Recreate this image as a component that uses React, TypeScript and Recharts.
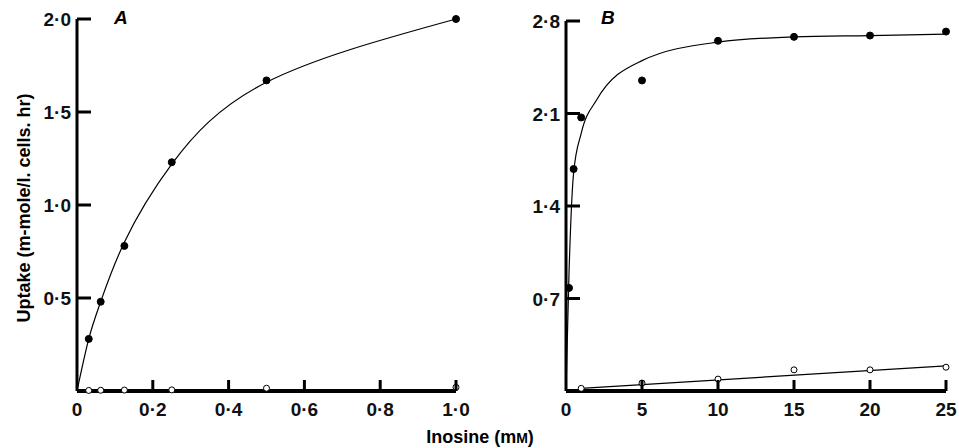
import { LineChart, Line, XAxis, YAxis } from "recharts";

// Panel A (0-1 mM)
const aFilled = [
  { x: 0.031, y: 0.28 },
  { x: 0.0625, y: 0.48 },
  { x: 0.125, y: 0.78 },
  { x: 0.25, y: 1.23 },
  { x: 0.5, y: 1.67 },
  { x: 1.0, y: 2.0 },
];
const aCurve = [
  { x: 0, y: 0 },
  { x: 0.031, y: 0.28 },
  { x: 0.0625, y: 0.48 },
  { x: 0.125, y: 0.8 },
  { x: 0.25, y: 1.22 },
  { x: 0.5, y: 1.66 },
  { x: 1.0, y: 2.0 },
];
const aOpen = [
  { x: 0.031, y: 0.003 },
  { x: 0.0625, y: 0.004 },
  { x: 0.125, y: 0.005 },
  { x: 0.25, y: 0.006 },
  { x: 0.5, y: 0.015 },
  { x: 1.0, y: 0.02 },
];
const aXTicks = [0, 0.2, 0.4, 0.6, 0.8, 1.0];
const aYTicks = [0.5, 1.0, 1.5, 2.0];

// Panel B (0-25 mM)
const bFilled = [
  { x: 0.2, y: 0.78 },
  { x: 0.5, y: 1.68 },
  { x: 1, y: 2.07 },
  { x: 5, y: 2.35 },
  { x: 10, y: 2.65 },
  { x: 15, y: 2.68 },
  { x: 20, y: 2.69 },
  { x: 25, y: 2.72 },
];
const bCurve = [
  { x: 0, y: 0 },
  { x: 0.2, y: 0.9 },
  { x: 0.5, y: 1.65 },
  { x: 1, y: 1.95 },
  { x: 2, y: 2.2 },
  { x: 5, y: 2.5 },
  { x: 10, y: 2.64 },
  { x: 15, y: 2.68 },
  { x: 20, y: 2.69 },
  { x: 25, y: 2.7 },
];
const bOpenFit = [
  { x: 1, y: 0.02 },
  { x: 25, y: 0.19 },
];
const bOpen = [
  { x: 1, y: 0.02 },
  { x: 5, y: 0.06 },
  { x: 10, y: 0.09 },
  { x: 15, y: 0.16 },
  { x: 20, y: 0.16 },
  { x: 25, y: 0.18 },
];
const bXTicks = [0, 5, 10, 15, 20, 25];
const bYTicks = [0.7, 1.4, 2.1, 2.8];

const FONT = "'Liberation Sans', Arial, sans-serif";
const fmt = (v: number, d: number) => (v === 0 ? "0" : v.toFixed(d).replace(".", "·"));

const XTick = ({ x, y, payload, d }: any) => (
  <g>
    {payload.value !== 0 && <line x1={x} x2={x} y1={y} y2={y - 11} stroke="#000" strokeWidth={3} />}
    <text x={x} y={y + 25} textAnchor="middle" fontSize={19} fontWeight="bold" fontFamily={FONT} fill="#111">
      {fmt(payload.value, d)}
    </text>
  </g>
);

const YTick = ({ x, y, payload }: any) => (
  <g>
    <line x1={x} x2={x + 14} y1={y} y2={y} stroke="#000" strokeWidth={3} />
    <text x={x - 6} y={y + 7} textAnchor="end" fontSize={19} fontWeight="bold" fontFamily={FONT} fill="#111">
      {fmt(payload.value, 1)}
    </text>
  </g>
);

const openDot = { r: 3, fill: "#fff", stroke: "#000", strokeWidth: 1 };
const fullDot = { r: 3.5, fill: "#000", stroke: "#000" };

function Panel({ left, top, width, height, margin, xMax, yMax, xTicks, yTicks, d, curve, curveType, filled, open, openFit, label }: any) {
  return (
    <div style={{ position: "absolute", left, top }}>
      <LineChart width={width} height={height} margin={margin}>
        <XAxis type="number" dataKey="x" domain={[0, xMax]} ticks={xTicks} tickSize={0} tickMargin={0}
          axisLine={{ stroke: "#000", strokeWidth: 4 }} tickLine={false} tick={<XTick d={d} />} height={1} />
        <YAxis type="number" dataKey="y" domain={[0, yMax]} ticks={yTicks} tickSize={0} tickMargin={0}
          axisLine={{ stroke: "#000", strokeWidth: 3 }} tickLine={false} tick={<YTick />} width={1} />
        <Line data={curve} dataKey="y" type={curveType} stroke="#000" strokeWidth={1.2} dot={false} isAnimationActive={false} />
        {openFit && <Line data={openFit} dataKey="y" type="linear" stroke="#000" strokeWidth={1.2} dot={false} isAnimationActive={false} />}
        <Line data={filled} dataKey="y" stroke="none" dot={fullDot} isAnimationActive={false} />
        <Line data={open} dataKey="y" stroke="none" dot={openDot} isAnimationActive={false} />
      </LineChart>
      <div style={{ position: "absolute", left: label.x, top: label.y, fontFamily: FONT, fontSize: 19, fontWeight: "bold", fontStyle: "italic" }}>
        {label.t}
      </div>
    </div>
  );
}

export default function App() {
  return (
    <div style={{ position: "absolute", left: 0, top: 0, width: 959, height: 448, background: "#fff" }}>
      <Panel left={0} top={0} width={480} height={448} margin={{ left: 76, right: 24, top: 19, bottom: 56 }}
        xMax={1} yMax={2} xTicks={aXTicks} yTicks={aYTicks} d={1} curveType="natural"
        curve={aCurve} filled={aFilled} open={aOpen} label={{ x: 114, y: 7, t: "A" }} />
      <Panel left={480} top={0} width={479} height={448} margin={{ left: 85, right: 13, top: 21, bottom: 56 }}
        xMax={25} yMax={2.8} xTicks={bXTicks} yTicks={bYTicks} d={0} curveType="monotone"
        curve={bCurve} filled={bFilled} open={bOpen} openFit={bOpenFit} label={{ x: 121, y: 7, t: "B" }} />
      <div style={{ position: "absolute", left: 24, top: 208, transform: "translate(-50%,-50%) rotate(-90deg)",
        whiteSpace: "nowrap", fontFamily: FONT, fontSize: 18, fontWeight: "bold" }}>
        Uptake (m-mole/l. cells. hr)
      </div>
      <div style={{ position: "absolute", left: 480, top: 437, transform: "translate(-50%,-50%)", whiteSpace: "nowrap",
        fontFamily: FONT, fontSize: 18, fontWeight: "bold" }}>
        Inosine (m<span style={{ fontSize: 14 }}>M</span>)
      </div>
    </div>
  );
}
